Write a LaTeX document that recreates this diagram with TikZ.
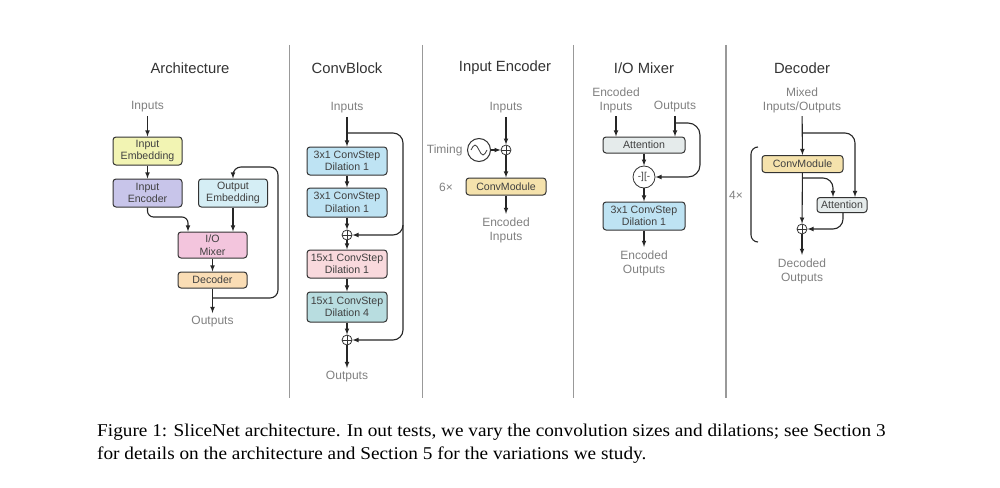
\documentclass[tikz,border=0pt]{standalone}
\usepackage{fontspec}
\setmainfont{Liberation Serif}
\newfontfamily\diagfont{Liberation Sans}
\newfontfamily\capfont[FakeStretch=1.07]{Liberation Serif}
\usepackage{xcolor}
\usetikzlibrary{shapes.geometric, arrows, positioning}

\definecolor{embyellow}{HTML}{F2F4B3}
\definecolor{enclav}{HTML}{C8C5EA}
\definecolor{embcyan}{HTML}{D5EEF5}
\definecolor{mixpink}{HTML}{F3C5DD}
\definecolor{decpeach}{HTML}{FADDB5}
\definecolor{stepblue}{HTML}{BEE3F3}
\definecolor{steppink}{HTML}{F9D9DD}
\definecolor{stepteal}{HTML}{B8DDE0}
\definecolor{modyellow}{HTML}{F5E2AC}
\definecolor{attgray}{HTML}{E5EBEB}

\begin{document}
\begin{tikzpicture}[x=1pt, y=-1pt]
\tikzstyle{block} = [rectangle, draw=black!80, line width=1pt, rounded corners=3pt, minimum width=69pt, minimum height=28pt, inner sep=0pt, align=center, text=black!75, font=\diagfont\fontsize{10.6}{12.5}\selectfont]
\tikzstyle{lbl} = [text=black!50, align=center, font=\diagfont\fontsize{12}{14}\selectfont]
\tikzstyle{heading} = [text=black!80, font=\diagfont\fontsize{14.8}{17}\selectfont]
\tikzstyle{line} = [draw, -latex, line width=1.1pt, black!85]
\tikzstyle{plus} = [circle, draw=black!80, line width=0.8pt, minimum size=10pt, inner sep=0pt, fill=white, path picture={\draw[line width=0.8pt] (path picture bounding box.north) -- (path picture bounding box.south) (path picture bounding box.west) -- (path picture bounding box.east);}]
\tikzstyle{concat} = [circle, draw=black!80, line width=0.8pt, minimum size=22pt, inner sep=0pt, fill=white, text=black!75, font=\diagfont\fontsize{10}{10}\selectfont]
\tikzstyle{clock} = [circle, draw=black!80, line width=1pt, minimum size=23pt, inner sep=0pt]

\useasboundingbox (0,0) rectangle (1000,487);

\foreach \sx in {289.5,422.5,573.5,726}
  \draw[black!40, line width=1.2pt] (\sx,45) -- (\sx,398);

\node [heading] (tarch) at (190,68) {Architecture};
\node [lbl] (ain) at (147.5,107) {Inputs};
\node [block, fill=embyellow] (iemb) at (147.5,151) {Input\\Embedding};
\node [block, fill=enclav] (ienc) at (147.5,193) {Input\\Encoder};
\node [block, fill=embcyan] (oemb) at (233,193) {Output\\Embedding};
\node [block, fill=mixpink, minimum height=26pt] (iomix) at (212.5,245) {I/O\\Mixer};
\node [block, fill=decpeach, minimum height=16pt] (adec) at (212.5,280) {Decoder};
\node [lbl] (aout) at (212.5,322) {Outputs};
\coordinate (abend) at (188,217);
\coordinate (afork) at (212.5,298);

\draw [line] (ain) -- (iemb);
\draw [line] (iemb) -- (ienc);
\draw [line, rounded corners=6pt] (ienc.south) |- (abend) -- (abend |- iomix.north);
\draw [line] (oemb) -- (oemb |- iomix.north);
\draw [line] (iomix) -- (adec);
\draw [line] (adec) -- (aout);
\draw [line, rounded corners=8pt] (afork) -| (278,167) -| (oemb.north);

\node [heading] (tconv) at (347,68) {ConvBlock};
\node [lbl] (cin) at (347,108) {Inputs};
\coordinate (csplit) at (347,133);
\node [block, fill=stepblue, minimum width=80pt] (cs1) at (347,161) {3x1 ConvStep\\Dilation 1};
\node [block, fill=stepblue, minimum width=80pt, minimum height=29pt] (cs2) at (347,202.5) {3x1 ConvStep\\Dilation 1};
\node [plus] (cadd1) at (347,235) {};
\node [block, fill=steppink, minimum width=80pt] (cs3) at (347,264) {15x1 ConvStep\\Dilation 1};
\node [block, fill=stepteal, minimum width=80pt, minimum height=30pt] (cs4) at (347,307) {15x1 ConvStep\\Dilation 4};
\node [plus] (cadd2) at (347,340) {};
\node [lbl] (cout) at (347,377) {Outputs};

\draw [line] (cin) -- (cs1);
\draw [line] (cs1) -- (cs2);
\draw [line] (cs2) -- (cadd1);
\draw [line] (cadd1) -- (cs3);
\draw [line] (cs3) -- (cs4);
\draw [line] (cs4) -- (cadd2);
\draw [line] (cadd2) -- (cout);
\draw [line, rounded corners=10pt] (csplit) -| (403,235) -- (cadd1);
\draw [line, rounded corners=10pt] (403,225) |- (cadd2);

\node [heading] (tenc) at (505,68) {Input Encoder};
\node [lbl] (ein) at (506,108) {Inputs};
\node [plus] (eadd) at (506,150) {};
\node [clock] (etime) at (479,150) {};
\node [lbl, anchor=east] (etlbl) at (466,150) {Timing};
\node [block, fill=modyellow, minimum width=80pt, minimum height=17pt] (emod) at (506,186.5) {ConvModule};
\node [lbl] (erep) at (446,187) {6×};
\node [lbl] (eout) at (506,230) {Encoded\\Inputs};
\draw [line width=0.8pt, black!80] ([xshift=-8pt]etime.center) sin ++(4pt,5pt) cos ++(4pt,-5pt) sin ++(4pt,-5pt) cos ++(4pt,5pt);

\draw [line] (ein) -- (eadd);
\draw [line] (etime) -- (eadd);
\draw [line] (eadd) -- (emod);
\draw [line] (emod) -- (eout);

\node [heading] (tmix) at (644,68) {I/O Mixer};
\node [lbl] (min) at (616,100) {Encoded\\Inputs};
\node [lbl] (mout) at (675,107) {Outputs};
\node [block, fill=attgray, minimum width=82pt, minimum height=16pt] (matt) at (644,145) {Attention};
\node [concat] (mcat) at (644,177) {-][-};
\node [block, fill=stepblue, minimum width=82pt] (mstep) at (644,216) {3x1 ConvStep\\Dilation 1};
\node [lbl] (mres) at (644,263) {Encoded\\Outputs};
\coordinate (mfork) at (675,123);

\draw [line] (min) -- (min |- matt.north);
\draw [line] (mout) -- (mout |- matt.north);
\draw [line] (matt) -- (mcat);
\draw [line] (mcat) -- (mstep);
\draw [line] (mstep) -- (mres);
\draw [line, rounded corners=12pt] (mfork) -| (700,177) -- (mcat);

\node [heading] (tdec) at (802,68) {Decoder};
\node [lbl] (din) at (802,100) {Mixed\\Inputs/Outputs};
\coordinate (dfork1) at (802,133);
\node [block, fill=modyellow, minimum width=81pt, minimum height=17pt] (dmod) at (802.5,164) {ConvModule};
\coordinate (dfork2) at (802,178);
\node [block, fill=attgray, minimum width=50pt, minimum height=15pt] (datt) at (842,205) {Attention};
\node [plus] (dadd) at (802,229) {};
\node [lbl] (dout) at (802,271) {Decoded\\Outputs};
\node [lbl] (drep) at (736,195) {4×};

\draw [line] (din) -- (dmod);
\draw [line] (dmod) -- (dadd);
\draw [line] (dadd) -- (dout);
\draw [line, rounded corners=10pt] (dfork1) -| ([xshift=13pt]datt.north);
\draw [line, rounded corners=10pt] (dfork2) -| ([xshift=-9pt]datt.north);
\draw [line, rounded corners=10pt] ([xshift=1pt]datt.south) |- (dadd);
\draw [line width=1.1pt, black!85, rounded corners=7pt] (758,147) -- (751,147) -- (751,242) -- (758,242);

\node [anchor=west, align=left, inner sep=0pt, font=\capfont\fontsize{18}{23}\selectfont] (caption) at (97,443.5) {Figure 1: SliceNet architecture. In out tests, we vary the convolution sizes and dilations; see Section 3\\for details on the architecture and Section 5 for the variations we study.};
\end{tikzpicture}
\end{document}
